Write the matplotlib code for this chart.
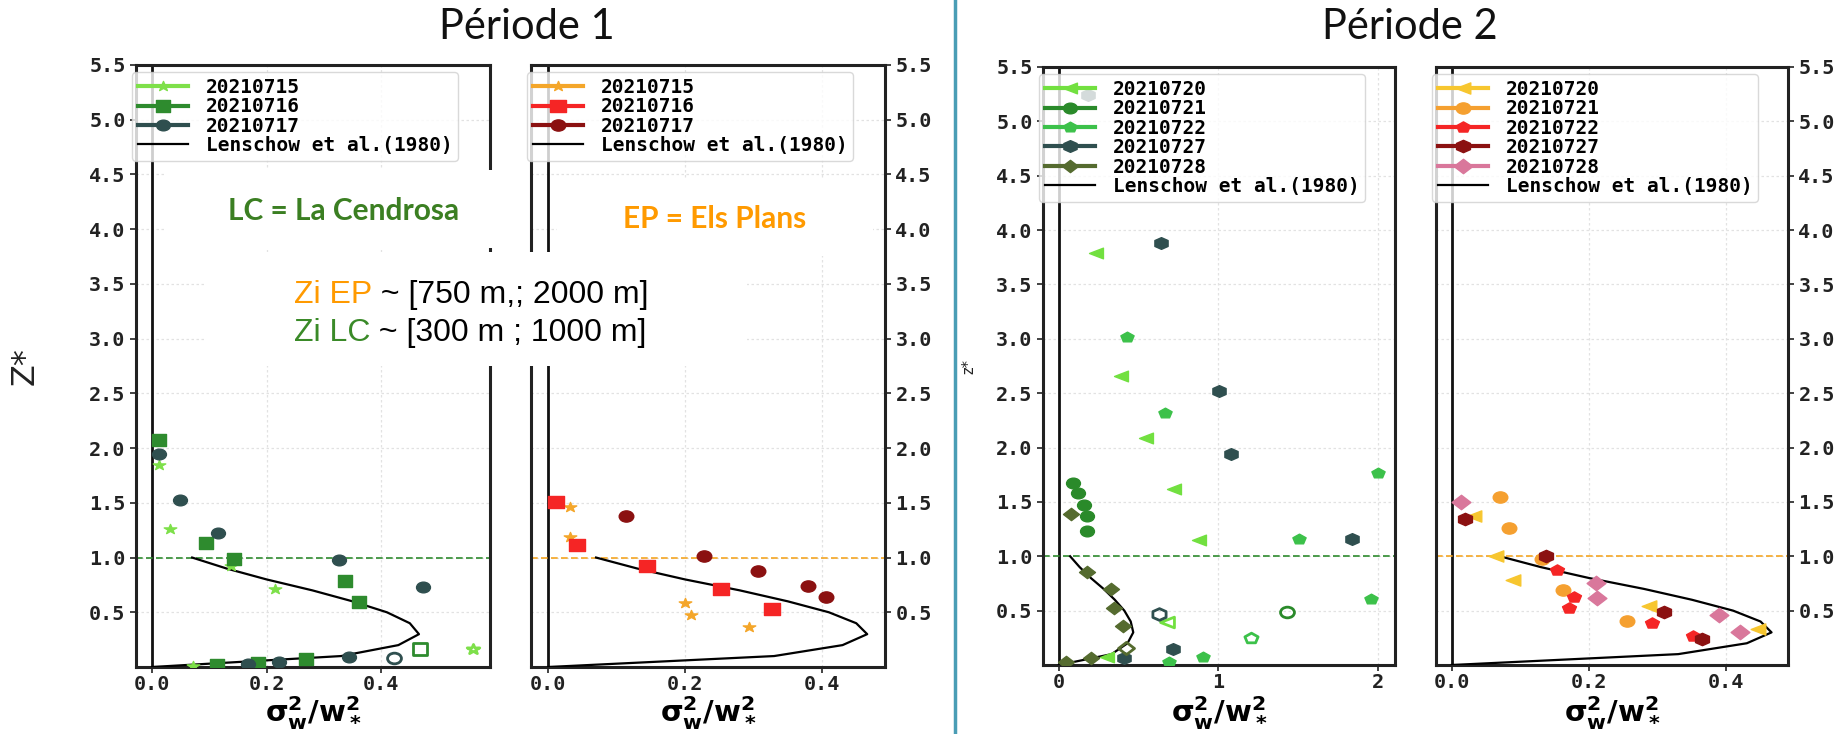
import numpy as np
import matplotlib
matplotlib.use("Agg")
import matplotlib.pyplot as plt
from matplotlib.lines import Line2D
from matplotlib.markers import MarkerStyle
from matplotlib.patches import Rectangle
from matplotlib.path import Path

plt.rcParams['font.family'] = 'DejaVu Sans Mono'
plt.rcParams['font.weight'] = 'bold'

# Lenschow et al. (1980) reference profile
lenschow_z = [0.0, 0.1, 0.2, 0.3, 0.4, 0.5, 0.6, 0.7, 0.8, 0.9, 1.0]
lenschow_var = [0.0, 0.33, 0.43, 0.466, 0.45, 0.41, 0.35, 0.28, 0.20, 0.13, 0.07]

# Periode 1 - La Cendrosa
lc1_dates = ['20210715', '20210716', '20210717']
lc1_x = [[0.012, 0.032, 0.137, 0.214, 0.071],
         [0.013, 0.095, 0.143, 0.337, 0.362, 0.268, 0.185, 0.113],
         [0.013, 0.049, 0.116, 0.327, 0.473, 0.343, 0.222, 0.167]]
lc1_z = [[1.85, 1.265, 0.92, 0.71, 0.01],
         [2.07, 1.13, 0.985, 0.79, 0.59, 0.075, 0.035, 0.015],
         [1.95, 1.524, 1.22, 0.982, 0.735, 0.095, 0.046, 0.025]]
lc1_open_x = [0.561, 0.467, 0.423]
lc1_open_z = [0.168, 0.162, 0.085]

# Periode 1 - Els Plans
ep1_dates = ['20210715', '20210716', '20210717']
ep1_x = [[0.032, 0.032, 0.200, 0.209, 0.293],
         [0.011, 0.042, 0.144, 0.253, 0.327],
         [0.114, 0.227, 0.307, 0.379, 0.406]]
ep1_z = [[1.463, 1.19, 0.588, 0.473, 0.366],
         [1.508, 1.112, 0.923, 0.716, 0.527],
         [1.377, 1.012, 0.875, 0.738, 0.64]]

# Periode 2 - La Cendrosa
lc2_dates = ['20210720', '20210721', '20210722', '20210727', '20210728']
lc2_x = [[0.232, 0.387, 0.543, 0.722, 0.877, 0.30],
         [0.085, 0.121, 0.156, 0.179, 0.179],
         [0.424, 0.668, 2.002, 1.507, 1.956, 0.905, 0.69],
         [0.184, 0.637, 1.004, 1.076, 1.838, 0.717, 0.41],
         [0.073, 0.173, 0.324, 0.345, 0.403, 0.204, 0.044]]
lc2_z = [[3.79, 2.657, 2.084, 1.615, 1.15, 0.075],
         [1.677, 1.579, 1.471, 1.373, 1.232],
         [3.013, 2.314, 1.763, 1.159, 0.605, 0.077, 0.031],
         [5.24, 3.877, 2.519, 1.937, 1.159, 0.148, 0.068],
         [1.389, 0.853, 0.697, 0.528, 0.362, 0.068, 0.028]]
lc2_open_x = [0.679, 1.427, 1.202, 0.627, 0.418]
lc2_open_z = [0.40, 0.485, 0.246, 0.467, 0.154]

# Periode 2 - Els Plans
ep2_dates = ['20210720', '20210721', '20210722', '20210727', '20210728']
ep2_x = [[0.032, 0.064, 0.089, 0.287, 0.446],
         [0.07, 0.083, 0.131, 0.162, 0.256],
         [0.153, 0.178, 0.171, 0.292, 0.351],
         [0.019, 0.138, 0.309, 0.364],
         [0.014, 0.21, 0.211, 0.389, 0.42]]
ep2_z = [[1.37, 1.006, 0.782, 0.546, 0.329],
         [1.548, 1.257, 0.972, 0.69, 0.405],
         [0.874, 0.623, 0.522, 0.384, 0.27],
         [1.34, 1.003, 0.485, 0.237],
         [1.496, 0.752, 0.614, 0.46, 0.307]]

# styles
lc1_colors = ['#7ee04a', '#2e8b2e', '#2f4f4f']
lc1_markers = ['*', 's', 'o']
lc1_sizes = [9, 10.5, 10]
ep1_colors = ['#f4a62a', '#f52525', '#8b1111']
ep1_markers = ['*', 's', 'o']
ep1_sizes = [9, 11.5, 10.5]
lc2_colors = ['#72e040', '#2a8a2a', '#3cc14a', '#2f4f4f', '#556b2f']
lc2_markers = ['<', 'o', 'p', 'h', 'D']
lc2_sizes = [10, 10, 9.5, 9.5, 11.5]
ep2_colors = ['#f7c62f', '#f5a030', '#f52525', '#8b1111', '#d9779b']
ep2_markers = ['<', 'o', 'p', 'h', 'D']
ep2_sizes = [10.5, 10.5, 10, 10, 13.5]

LC_GREEN = '#3b7f22'
EP_ORANGE = '#ff9a00'
W, H = 1846, 734


def wide(m, sx=1.3):
    # markers a bit wider than tall
    ms = MarkerStyle(m)
    p = ms.get_path().transformed(ms.get_transform())
    return Path(p.vertices * [sx, 1.0], p.codes)


def draw_panel(ax, dates, xs, zs, colors, markers, sizes, zi_color,
               xlim, xticks, xfmt, right=False, open_x=None, open_z=None):
    for i in range(len(dates)):
        ax.plot(xs[i], zs[i], ls='none', marker=wide(markers[i]),
                ms=sizes[i], color=colors[i], mec=colors[i], zorder=4)
    if open_x is not None:
        for i in range(len(dates)):
            ax.plot([open_x[i]], [open_z[i]], ls='none',
                    marker=wide(markers[i]), ms=sizes[i], mfc='none',
                    mec=colors[i], mew=2, zorder=4)
    ax.plot(lenschow_var, lenschow_z, color='k', lw=1.6, zorder=3)
    ax.axvline(0, color='#111111', lw=2, zorder=2)
    ax.axhline(1.0, color=zi_color, lw=1.2, ls=(0, (4, 2)), zorder=2)

    ax.set_xlim(*xlim)
    ax.set_ylim(0, 5.5)
    ax.set_xticks(xticks)
    ax.set_xticklabels([xfmt % t for t in xticks])
    yt = np.arange(0.5, 5.51, 0.5)
    ax.set_yticks(yt)
    ax.set_yticklabels(['%.1f' % t for t in yt])
    if right:
        ax.yaxis.tick_right()
    ax.tick_params(labelsize=14.5, length=4, width=1.2, colors='#222222')
    ax.tick_params(axis='x', pad=2)
    ax.grid(True, color='#e2e2e2', lw=0.9, ls=(0, (2, 2)))
    ax.set_axisbelow(True)
    for s in ax.spines.values():
        s.set_linewidth(2.2)
        s.set_color('#222222')

    # label sits at the bottom edge of the figure
    ax.set_xlabel(r'$\mathbf{\sigma_w^2/w_*^2}$', fontsize=21, va='bottom')
    bottom_px = ax.get_position().y0 * H
    ax.xaxis.set_label_coords(0.5, -(bottom_px - 2) / (ax.get_position().height * H))

    handles = [Line2D([], [], color=colors[i], lw=3, marker=wide(markers[i]),
                      ms=sizes[i]) for i in range(len(dates))]
    handles.append(Line2D([], [], color='k', lw=1.6))
    ax.legend(handles, dates + ['Lenschow et al.(1980)'], loc='upper left',
              bbox_to_anchor=(-0.012, 0.988), fontsize=14, handlelength=2.6,
              handletextpad=0.9, labelspacing=0.02, borderpad=0.3,
              borderaxespad=0, framealpha=0.8, edgecolor='#d0d0d0')


fig = plt.figure(figsize=(W / 100, H / 100), dpi=100)

ax1 = fig.add_axes([136 / W, 67 / H, 354 / W, 602 / H])
ax2 = fig.add_axes([531 / W, 67 / H, 354 / W, 602 / H])
ax3 = fig.add_axes([1043 / W, 69 / H, 352 / W, 598 / H])
ax4 = fig.add_axes([1436 / W, 69 / H, 352 / W, 598 / H])

draw_panel(ax1, lc1_dates, lc1_x, lc1_z, lc1_colors, lc1_markers, lc1_sizes,
           '#2e8b2e', (-0.028, 0.59), [0.0, 0.2, 0.4], '%.1f',
           open_x=lc1_open_x, open_z=lc1_open_z)
draw_panel(ax2, ep1_dates, ep1_x, ep1_z, ep1_colors, ep1_markers, ep1_sizes,
           '#f5a623', (-0.025, 0.492), [0.0, 0.2, 0.4], '%.1f', right=True)
draw_panel(ax3, lc2_dates, lc2_x, lc2_z, lc2_colors, lc2_markers, lc2_sizes,
           '#2e8b2e', (-0.10, 2.107), [0, 1, 2], '%d',
           open_x=lc2_open_x, open_z=lc2_open_z)
draw_panel(ax4, ep2_dates, ep2_x, ep2_z, ep2_colors, ep2_markers, ep2_sizes,
           '#f5a623', (-0.023, 0.49), [0.0, 0.2, 0.4], '%.1f', right=True)

ax1.set_ylabel('Z*', fontsize=23, fontfamily='DejaVu Sans',
               fontweight='normal', color='#222222')
ax1.yaxis.set_label_coords(-0.27, 0.5)
ax3.set_ylabel('z*', fontsize=10.5, fontfamily='DejaVu Sans',
               fontweight='normal', color='#222222')
ax3.yaxis.set_label_coords(-0.19, 0.5)

# slide overlay, in pixel units
ov = fig.add_axes([0, 0, 1, 1], zorder=10)
ov.set_xlim(0, W)
ov.set_ylim(H, 0)
ov.set_axis_off()

ov.axvline(955, color='#4a9db5', lw=2.5)

for (x0, y0, x1, y1) in [(166, 170, 505, 248), (557, 178, 873, 256),
                         (205, 252, 747, 366)]:
    ov.add_patch(Rectangle((x0, y0), x1 - x0, y1 - y0, facecolor='white',
                           edgecolor='none'))

title_kw = dict(fontsize=30, fontfamily='Lato', fontweight='normal',
                color='#111111', ha='center', va='center')
ov.text(527, 27, 'Période 1', **title_kw)
ov.text(1410, 27, 'Période 2', **title_kw)

site_kw = dict(fontsize=21.5, fontfamily='Lato', fontweight='bold',
               ha='center', va='center')
ov.text(344, 211, 'LC = La Cendrosa', color=LC_GREEN, **site_kw)
ov.text(715, 219, 'EP = Els Plans', color=EP_ORANGE, **site_kw)

zi_kw = dict(fontsize=23, fontfamily='Liberation Sans', fontweight='normal')
t = ov.text(294, 303, 'Zi EP', color=EP_ORANGE, va='baseline', **zi_kw)
ov.annotate(' ~ [750 m,; 2000 m]', xy=(1, 0), xycoords=t, va='bottom',
            ha='left', color='black', **zi_kw)
t = ov.text(294, 341, 'Zi LC', color='#3a8a28', va='baseline', **zi_kw)
ov.annotate(' ~ [300 m ; 1000 m]', xy=(1, 0), xycoords=t, va='bottom',
            ha='left', color='black', **zi_kw)

fig.savefig('out.png', dpi=100)
